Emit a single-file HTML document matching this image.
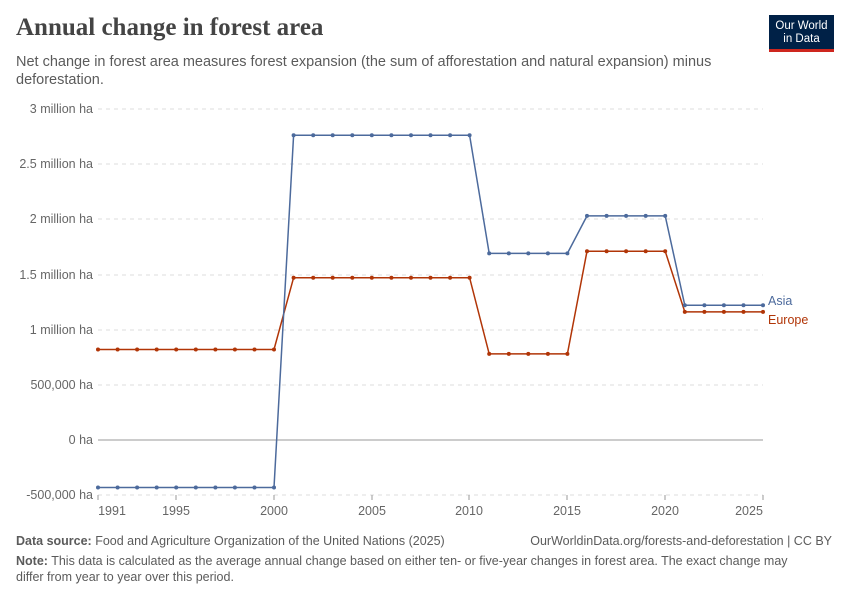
<!DOCTYPE html>
<html><head><meta charset="utf-8"><style>
body{margin:0;background:#fff;width:850px;height:600px;overflow:hidden;font-family:"Liberation Sans",sans-serif;position:relative}
.t{position:absolute;left:16px;top:14px;font-family:"Liberation Serif",serif;font-size:25px;color:#444;font-weight:bold;margin:0}
.s{position:absolute;left:16px;top:53px;width:720px;font-size:14.5px;line-height:18px;color:#5b5b5b}
.logo{position:absolute;left:769px;top:15px;width:65px;height:37px;background:#002147;color:#fff;font-size:11.5px;line-height:13px;text-align:center;padding-top:5px;box-sizing:border-box;border-bottom:3px solid #ce261e}
.f{position:absolute;left:16px;font-size:12.5px;color:#5b5b5b;line-height:16px}
</style></head><body>
<div class="t">Annual change in forest area</div>
<div class="s">Net change in forest area measures forest expansion (the sum of afforestation and natural expansion) minus deforestation.</div>
<div class="logo">Our World<br>in Data</div>
<svg width="850" height="600" style="position:absolute;left:0;top:0" font-family="Liberation Sans, sans-serif">
<g stroke="#ddd" stroke-dasharray="4,4">
<line x1="98" x2="763" y1="109" y2="109"/><line x1="98" x2="763" y1="164" y2="164"/><line x1="98" x2="763" y1="219" y2="219"/><line x1="98" x2="763" y1="275" y2="275"/><line x1="98" x2="763" y1="330" y2="330"/><line x1="98" x2="763" y1="385" y2="385"/><line x1="98" x2="763" y1="495" y2="495"/>
</g>
<line x1="98" x2="763" y1="440" y2="440" stroke="#999"/>
<g font-size="12.5" fill="#666" text-anchor="end">
<text x="93" y="113">3 million ha</text><text x="93" y="168">2.5 million ha</text><text x="93" y="223">2 million ha</text><text x="93" y="279">1.5 million ha</text><text x="93" y="334">1 million ha</text><text x="93" y="389">500,000 ha</text><text x="93" y="444">0 ha</text><text x="93" y="499">-500,000 ha</text>
</g>
<g font-size="12.5" fill="#666" text-anchor="middle">
<text x="112" y="515">1991</text><text x="176" y="515">1995</text><text x="274" y="515">2000</text><text x="372" y="515">2005</text><text x="469" y="515">2010</text><text x="567" y="515">2015</text><text x="665" y="515">2020</text><text x="749" y="515">2025</text>
</g>
<g stroke="#999"><line x1="98" x2="98" y1="495" y2="500"/><line x1="176" x2="176" y1="495" y2="500"/><line x1="274" x2="274" y1="495" y2="500"/><line x1="372" x2="372" y1="495" y2="500"/><line x1="469" x2="469" y1="495" y2="500"/><line x1="567" x2="567" y1="495" y2="500"/><line x1="665" x2="665" y1="495" y2="500"/><line x1="763" x2="763" y1="495" y2="500"/></g>
<g id="lines"></g>
<text x="768" y="305" font-size="12.5" fill="#4c6a9c">Asia</text>
<text x="768" y="324" font-size="12.5" fill="#b13507">Europe</text>
</svg>
<div class="f" style="top:533px"><b>Data source:</b> Food and Agriculture Organization of the United Nations (2025)</div>
<div class="f" style="top:533px;left:auto;right:18px">OurWorldinData.org/forests-and-deforestation | CC BY</div>
<div class="f" style="top:553px;width:800px"><b>Note:</b> This data is calculated as the average annual change based on either ten- or five-year changes in forest area. The exact change may differ from year to year over this period.</div>
<script>
function s(vals,col){var x0=98,dx=19.56,p=[],c='';vals.forEach(function(v,i){var x=x0+i*dx,y=440-v*110.4;p.push(x.toFixed(1)+','+y.toFixed(1));c+='<circle cx="'+x.toFixed(1)+'" cy="'+y.toFixed(1)+'" r="2" fill="'+col+'"/>';});
return '<polyline fill="none" stroke="'+col+'" stroke-width="1.5" points="'+p.join(' ')+'"/>'+c;}
function r(v,n){return Array(n).fill(v);}
var a=[].concat(r(-0.43,10),r(2.76,10),r(1.69,5),r(2.03,5),r(1.22,5));
var e=[].concat(r(0.82,10),r(1.47,10),r(0.78,5),r(1.71,5),r(1.16,5));
document.getElementById('lines').innerHTML=s(e,'#b13507')+s(a,'#4c6a9c');
</script>
</body></html>
